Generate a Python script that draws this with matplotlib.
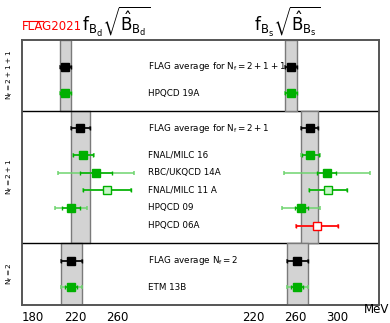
import numpy as np
import matplotlib
matplotlib.use("Agg")
import matplotlib.pyplot as plt
from matplotlib.lines import Line2D

# entries, top to bottom
names = [r"FLAG average for $\mathrm{N_f=2+1+1}$", "HPQCD 19A",
         r"FLAG average for $\mathrm{N_f=2+1}$", "FNAL/MILC 16", "RBC/UKQCD 14A",
         "FNAL/MILC 11 A", "HPQCD 09", "HPQCD 06A",
         r"FLAG average $\mathrm{N_f=2}$", "ETM 13B"]
kind = ["avg", "in", "avg", "in", "in", "open", "in", "fail", "avg", "in"]

# f_Bd sqrt(B_Bd) [MeV]: value, stat error, total error
bd_val = [210.6, 210.6, 225.0, 227.7, 240.0, 250.0, 216.0, np.nan, 216.0, 216.0]
bd_stat = [5.5, 5.5, 9.0, 9.5, 15.0, 23.0, 9.0, np.nan, 10.0, 6.0]
bd_tot = [5.5, 5.5, 9.0, 9.8, 36.0, 23.0, 15.0, np.nan, 10.0, 10.0]

# f_Bs sqrt(B_Bs) [MeV]
bs_val = [256.1, 256.1, 274.0, 274.6, 290.0, 291.0, 266.0, 281.0, 262.0, 262.0]
bs_stat = [5.7, 5.7, 8.0, 8.4, 9.0, 18.0, 6.0, 20.0, 10.0, 6.0]
bs_tot = [5.7, 5.7, 8.0, 9.1, 41.0, 18.0, 18.0, 20.0, 10.0, 10.0]

nf_labels = [r"$\mathrm{N_f=2+1+1}$", r"$\mathrm{N_f=2+1}$", r"$\mathrm{N_f=2}$"]

# layout: row positions and panel edges (rows counted from the top)
ypos = [1.5, 3, 5, 6.5, 7.5, 8.5, 9.5, 10.5, 12.5, 14]
edges = [0, 4, 11.5, 15]
avg_rows = [0, 2, 8]

green = "#00b000"
light_green = "#6fd46f"
styles = {
    "avg": dict(mfc="black", mec="black", ec="black", ec2="#555555"),
    "in": dict(mfc=green, mec=green, ec=green, ec2=light_green),
    "open": dict(mfc="#c8f5c8", mec=green, ec=green, ec2=light_green),
    "fail": dict(mfc="white", mec="#ff0000", ec="#ff0000", ec2="#ff6060"),
}

fig = plt.figure(figsize=(3.9, 3.23), dpi=100)
ax = fig.add_axes([0.0572, 0.0557, 0.914, 0.8203])
axr = ax.twiny()

xl = (169.6, 509.0)
shift = 169.3
ax.set_xlim(xl)
axr.set_xlim(xl[0] - shift, xl[1] - shift)
ax.set_ylim(edges[-1], edges[0])


def draw(a, vals, stat, tot):
    # grey bands from the FLAG averages
    for p, r in enumerate(avg_rows):
        a.fill_betweenx([edges[p], edges[p + 1]], vals[r] - tot[r], vals[r] + tot[r],
                        facecolor="#d3d3d3", edgecolor="#7a7a7a", lw=1.0, zorder=1)
    for i, y in enumerate(ypos):
        if np.isnan(vals[i]):
            continue
        s = styles[kind[i]]
        a.errorbar(vals[i], y, xerr=tot[i], fmt="none", ecolor=s["ec2"],
                   elinewidth=1.1, capsize=1.6, capthick=1.1, zorder=3)
        a.errorbar(vals[i], y, xerr=stat[i], fmt="s", ms=5.2, mfc=s["mfc"],
                   mec=s["mec"], mew=1.0, ecolor=s["ec"], elinewidth=1.1,
                   capsize=1.6, capthick=1.1, zorder=4)


draw(ax, bd_val, bd_stat, bd_tot)
draw(axr, bs_val, bs_stat, bs_tot)

for e in edges[1:-1]:
    ax.axhline(e, color="black", lw=1.0, zorder=5)

for i, y in enumerate(ypos):
    ax.text(0.3535, y, names[i], transform=ax.get_yaxis_transform(),
            ha="left", va="center", fontsize=6.3, zorder=6)

for p, lab in enumerate(nf_labels):
    ax.text(-0.0345, (edges[p] + edges[p + 1]) / 2, lab, transform=ax.get_yaxis_transform(),
            rotation=90, ha="center", va="center", fontsize=5.3)

ax.set_xticks([180, 220, 260])
axr.set_xticks([220, 260, 300])
axr.xaxis.set_ticks_position("bottom")
axr.xaxis.set_label_position("bottom")
for a in (ax, axr):
    a.tick_params(axis="x", length=0, pad=4.5, labelsize=8.5)
    a.set_yticks([])
    for sp in a.spines.values():
        sp.set_color("#555555")
        sp.set_linewidth(1.2)

fig.text(0.966, 0.032, "MeV", fontsize=8.5, ha="center", va="baseline")

# FLAG logo: red text with a bar over "FLA"
logo = fig.text(0.057, 0.907, "FLAG2021", color="red", fontsize=8.5,
                ha="left", va="baseline")
fig.canvas.draw()
bb = logo.get_window_extent().transformed(fig.transFigure.inverted())
fig.add_artist(Line2D([bb.x0 + 0.002, bb.x0 + 0.35 * bb.width],
                      [bb.y1 - 0.004, bb.y1 - 0.004], color="red", lw=0.8,
                      transform=fig.transFigure))

fig.text(0.21, 0.905, r"$\mathrm{f}_{\mathrm{B_d}}\sqrt{\hat{\mathrm{B}}_{\mathrm{B_d}}}$",
         fontsize=12, ha="left", va="baseline")
fig.text(0.737, 0.905, r"$\mathrm{f}_{\mathrm{B_s}}\sqrt{\hat{\mathrm{B}}_{\mathrm{B_s}}}$",
         fontsize=12, ha="center", va="baseline")

fig.savefig("out.png", dpi=100)
